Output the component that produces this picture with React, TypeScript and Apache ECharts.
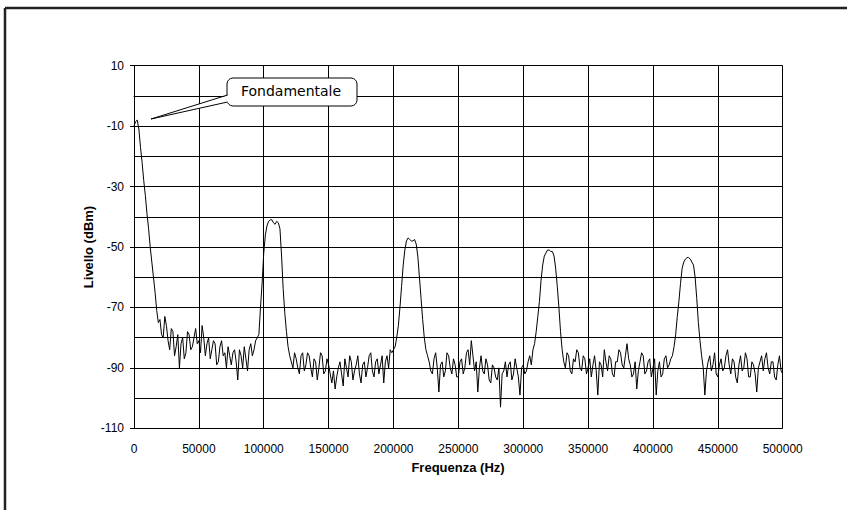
import React, { useEffect, useRef } from "react";
import * as echarts from "echarts";

// Sampling step of the spectrum trace (Hz)
const freqStepHz = 1250;

// Level readings (dBm), one per step from 0 Hz to 500000 Hz (20 per 25 kHz row)
const levelsDbm: number[] = [
  -10, -8.5, -8, -11, -17, -22, -28, -33, -39, -44, -50, -55, -60, -65, -71, -75, -74, -79, -80, -73,
  -76, -81, -84, -77, -78, -86, -83, -79, -90, -82, -80, -87, -85, -78, -79, -84, -83, -80, -77, -82,
  -81, -85, -76, -80, -86, -82, -80, -87, -84, -81, -82, -89, -88, -83, -81, -86, -85, -90, -83, -86,
  -89, -85, -84, -88, -94, -84, -86, -90, -83, -87, -91, -84, -82, -86, -84, -81, -80, -79, -70, -62,
  -52, -46, -43, -41.5, -41, -41, -42, -42.5, -41.5, -42, -44, -53, -64, -72, -78, -83, -86, -88, -90, -85,
  -87, -90, -92, -86, -85, -91, -89, -85, -86, -90, -93, -87, -88, -94, -90, -85, -86, -92, -91, -87,
  -89, -92, -95, -91, -97, -93, -90, -88, -92, -96, -87, -90, -93, -86, -88, -94, -91, -89, -86, -92,
  -95, -89, -88, -93, -90, -86, -85, -91, -93, -88, -87, -92, -89, -86, -95, -88, -86, -90, -84, -85,
  -84, -83, -80, -76, -70, -63, -56, -51, -48, -47, -47.5, -48, -48, -47.5, -49, -53, -60, -67, -74, -80,
  -84, -86, -88, -91, -92, -87, -85, -90, -98, -89, -88, -93, -91, -85, -86, -90, -92, -87, -89, -93,
  -93, -88, -87, -92, -90, -85, -84, -89, -81, -86, -91, -88, -98, -90, -86, -91, -92, -87, -89, -94,
  -95, -89, -90, -93, -94, -90, -103, -92, -91, -88, -93, -89, -88, -94, -92, -87, -90, -93, -99, -90,
  -89, -92, -91, -88, -86, -89, -84, -82, -78, -73, -68, -61, -56, -53, -52, -51, -51, -51.5, -51.5, -53,
  -57, -63, -70, -78, -84, -88, -90, -85, -86, -91, -92, -87, -88, -84, -85, -90, -91, -86, -87, -92,
  -90, -87, -93, -89, -86, -91, -99, -88, -89, -93, -84, -88, -91, -86, -87, -92, -93, -88, -88, -84,
  -85, -89, -90, -86, -82, -87, -89, -93, -92, -88, -97, -91, -88, -85, -86, -92, -91, -88, -87, -93,
  -90, -87, -99, -91, -88, -93, -92, -87, -86, -90, -89, -87, -86, -83, -79, -73, -68, -62, -57, -55,
  -54, -53.5, -53.5, -54, -55, -56, -60, -67, -75, -81, -86, -90, -99, -91, -88, -86, -91, -89, -85, -92,
  -93, -89, -87, -91, -90, -86, -84, -89, -92, -87, -88, -93, -95, -89, -86, -91, -90, -85, -87, -93,
  -93, -88, -89, -92, -98, -90, -88, -86, -91, -87, -85, -90, -92, -88, -88, -93, -94, -89, -86, -91,
  -92,
];

const xTitle = "Frequenza (Hz)";
const yTitle = "Livello (dBm)";
const calloutText = "Fondamentale";

const FONT = "'Liberation Sans', Arial, sans-serif";

export default function App() {
  const ref = useRef<HTMLDivElement>(null);

  useEffect(() => {
    document.body.style.margin = "0";
    const chart = echarts.init(ref.current!, null, { renderer: "svg" });
    const data = levelsDbm.map((v, i) => [i * freqStepHz, v]);

    chart.setOption({
      animation: false,
      backgroundColor: "#ffffff",
      grid: { left: 134, top: 65.7, right: 64.3, bottom: 81.7, containLabel: false },
      xAxis: {
        type: "value",
        min: 0,
        max: 500000,
        interval: 50000,
        axisLine: { show: true, lineStyle: { color: "#000", width: 1 } },
        axisTick: { show: true, length: 5, inside: false, lineStyle: { color: "#000" } },
        axisLabel: {
          fontSize: 12,
          color: "#000",
          fontFamily: FONT,
          margin: 15,
          formatter: (v: number) => String(v),
        },
        splitLine: { show: true, lineStyle: { color: "#000", width: 1 } },
      },
      yAxis: {
        type: "value",
        min: -110,
        max: 10,
        interval: 20,
        axisLine: { show: true, onZero: false, lineStyle: { color: "#000", width: 1 } },
        axisTick: { show: true, length: 4, inside: false, lineStyle: { color: "#000" } },
        minorTick: { show: true, splitNumber: 2, length: 0 },
        minorSplitLine: { show: true, lineStyle: { color: "#000", width: 1 } },
        axisLabel: { fontSize: 12, color: "#000", fontFamily: FONT, margin: 10 },
        splitLine: { show: true, lineStyle: { color: "#000", width: 1 } },
      },
      series: [
        {
          type: "line",
          data,
          showSymbol: false,
          symbol: "none",
          lineStyle: { color: "#000", width: 1 },
          z: 5,
        },
      ],
      graphic: [
        { type: "line", shape: { x1: 5, y1: 8, x2: 847, y2: 8 }, style: { stroke: "#222", lineWidth: 2.5 } },
        { type: "line", shape: { x1: 5, y1: 8, x2: 5, y2: 510 }, style: { stroke: "#222", lineWidth: 2.5 } },
        {
          type: "text",
          x: 458,
          y: 467,
          style: { text: xTitle, font: `bold 13px ${FONT}`, fill: "#000", align: "center", verticalAlign: "middle" },
        },
        {
          type: "text",
          x: 88,
          y: 247,
          rotation: Math.PI / 2,
          style: { text: yTitle, font: `bold 13px ${FONT}`, fill: "#000", align: "center", verticalAlign: "middle" },
        },
        {
          type: "rect",
          shape: { x: 227, y: 78, width: 130, height: 28, r: 6 },
          style: { fill: "#fff", stroke: "#000", lineWidth: 1 },
          z: 100,
        },
        {
          type: "polygon",
          shape: { points: [[229, 95], [151, 119], [229, 102]] },
          style: { fill: "#fff", stroke: "none" },
          z: 101,
        },
        {
          type: "polyline",
          shape: { points: [[227.5, 95], [151, 119], [227.5, 102]] },
          style: { stroke: "#000", lineWidth: 1, fill: "none" },
          z: 102,
        },
        {
          type: "text",
          x: 291,
          y: 91,
          style: {
            text: calloutText,
            font: "14px 'DejaVu Sans', sans-serif",
            fill: "#000",
            align: "center",
            verticalAlign: "middle",
          },
          z: 103,
        },
      ],
    });
    return () => chart.dispose();
  }, []);

  return <div ref={ref} style={{ position: "absolute", left: 0, top: 0, width: 847, height: 510 }} />;
}
